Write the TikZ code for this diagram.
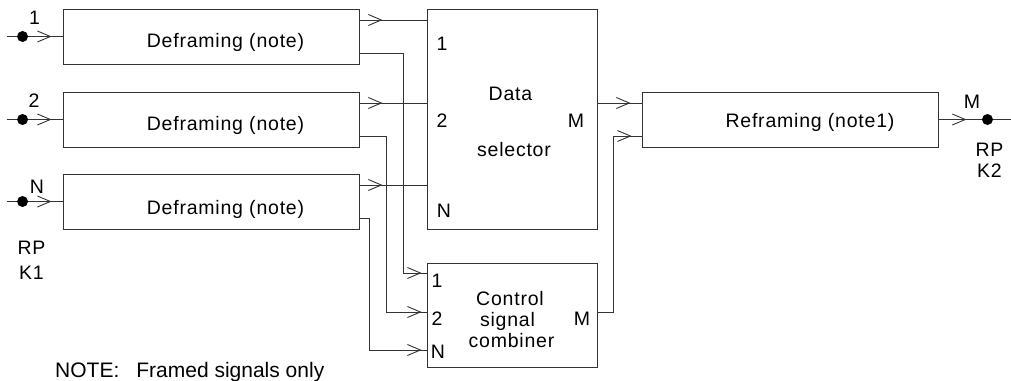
\documentclass[tikz,border=0pt]{standalone}
\usepackage{fontspec}
\newfontfamily\diagfont[LetterSpace=4]{Liberation Sans}
\newfontfamily\notefont{Liberation Sans}
\usetikzlibrary{arrows.meta,decorations.markings}

\tikzset{
    wire/.style={line width=0.9pt, draw=black!80},
    block/.style={draw=black!80, line width=0.9pt, inner sep=0pt},
    deframer/.style={block, minimum width=296pt, minimum height=55pt},
    lbl/.style={font=\diagfont\fontsize{19.5}{23}\selectfont, inner sep=0pt, anchor=base},
    tap/.style={circle, fill=black, inner sep=0pt, minimum size=11pt},
    midarrow/.style={postaction={decorate, decoration={markings,
        mark=at position #1 with {\arrow{Straight Barb[length=13pt, width=11pt]}}}}},
}

\begin{document}
\begin{tikzpicture}[x=1pt, y=-1pt]
    \useasboundingbox (0,0) rectangle (1011,380);
    % blocks
    \draw
        (211, 36.5) node[deframer] (DF1) {}
        (211, 119.5) node[deframer] (DF2) {}
        (211, 201.5) node[deframer] (DF3) {}
        (512, 119) node[block, minimum width=170pt, minimum height=220pt] (DS) {}
        (512, 315) node[block, minimum width=170pt, minimum height=104pt] (CC) {}
        (790, 119.5) node[deframer] (RF) {}
        ;
    % texts
    \draw
        (225.5, 47) node[lbl] (DF1t) {Deframing (note)}
        (225.5, 130) node[lbl] (DF2t) {Deframing (note)}
        (225.5, 214) node[lbl] (DF3t) {Deframing (note)}
        (510.5, 100) node[lbl] (DSt1) {Data}
        (514, 156) node[lbl] (DSt2) {selector}
        (442, 50) node[lbl] (DSi1) {1}
        (442, 127) node[lbl] (DSi2) {2}
        (444, 217) node[lbl] (DSi3) {N}
        (576, 127) node[lbl] (DSm) {M}
        (510, 305) node[lbl] (CCt1) {Control}
        (507.5, 326) node[lbl] (CCt2) {signal}
        (511.5, 347) node[lbl] (CCt3) {combiner}
        (437, 287) node[lbl] (CCi1) {1}
        (437, 325) node[lbl] (CCi2) {2}
        (438, 358) node[lbl] (CCi3) {N}
        (582, 325) node[lbl] (CCm) {M}
        (810, 127) node[lbl] (RFt) {Reframing (note1)}
        (34.5, 24) node[lbl] (IN1t) {1}
        (34, 107) node[lbl] (IN2t) {2}
        (37, 193) node[lbl] (IN3t) {N}
        (972, 108) node[lbl] (OUTt) {M}
        (31.5, 254) node[lbl] (RPK1a) {RP}
        (31.5, 279) node[lbl] (RPK1b) {K1}
        (989.5, 156) node[lbl] (RPK2a) {RP}
        (989.5, 177) node[lbl] (RPK2b) {K2}
        (55, 377) node[lbl, anchor=base west, font=\notefont\fontsize{21}{25}\selectfont] (NOTE) {NOTE:\hspace{17pt}Framed signals only}
        ;
    % ports
    \coordinate (IN1) at ([xshift=-56pt]DF1.west);
    \coordinate (IN2) at ([xshift=-56pt]DF2.west);
    \coordinate (IN3) at ([xshift=-56pt]DF3.west);
    \coordinate (DF1a) at ([yshift=16.5pt]DF1.east);
    \coordinate (DF2a) at ([yshift=16.5pt]DF2.east);
    \coordinate (DF3a) at ([yshift=16.5pt]DF3.east);
    \coordinate (DF1b) at ([yshift=-16.5pt]DF1.east);
    \coordinate (DF2b) at ([yshift=-16.5pt]DF2.east);
    \coordinate (DF3b) at ([yshift=-16.5pt]DF3.east);
    \coordinate (CC1) at ([yshift=42pt]CC.west);
    \coordinate (CC2) at ([yshift=3pt]CC.west);
    \coordinate (CC3) at ([yshift=-35pt]CC.west);
    \coordinate (DSo) at ([yshift=16pt]DS.east);
    \coordinate (CCo) at ([yshift=3pt]CC.east);
    \coordinate (RF2) at ([yshift=-16.5pt]RF.west);
    \coordinate (OUT) at ([xshift=73pt]RF.east);

    % inputs
    \draw[wire, midarrow=45pt] (IN1) -- (DF1.west);
    \draw[wire, midarrow=45pt] (IN2) -- (DF2.west);
    \draw[wire, midarrow=45pt] (IN3) -- (DF3.west);
    \node[tap] (T1) at ([xshift=-40pt]DF1.west) {};
    \node[tap] (T2) at ([xshift=-40pt]DF2.west) {};
    \node[tap] (T3) at ([xshift=-40pt]DF3.west) {};

    % to data selector
    \draw[wire, midarrow=23pt] (DF1a) -- (DF1a -| DS.west);
    \draw[wire, midarrow=23pt] (DF2a) -- (DF2a -| DS.west);
    \draw[wire, midarrow=23pt] (DF3a) -- (DF3a -| DS.west);

    % to control signal combiner
    \draw[wire, midarrow=-5pt] (DF1b) -| ([xshift=-23pt]CC1) -- (CC1);
    \draw[wire, midarrow=-5pt] (DF2b) -| ([xshift=-40pt]CC2) -- (CC2);
    \draw[wire, midarrow=-5pt] (DF3b) -| ([xshift=-57pt]CC3) -- (CC3);

    % to reframing and out
    \draw[wire, midarrow=33pt] (DSo) -- (DSo -| RF.west);
    \draw[wire, midarrow=-10pt] (CCo) -| ([xshift=-28pt]RF2) -- (RF2);
    \draw[wire, midarrow=28pt] (RF.east) -- (OUT);
    \node[tap] (T4) at ([xshift=49pt]RF.east) {};
\end{tikzpicture}
\end{document}
